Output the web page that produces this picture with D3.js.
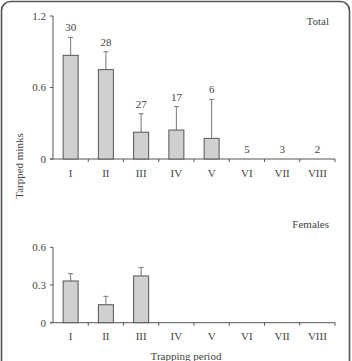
<!DOCTYPE html>
<html><head><meta charset="utf-8">
<script src="https://cdn.jsdelivr.net/npm/d3@7"></script>
<style>body{margin:0;background:#fff}svg{display:block}</style>
</head><body>
<script>
const periods = ["I","II","III","IV","V","VI","VII","VIII"];
const totalMean = [0.87, 0.75, 0.225, 0.243, 0.173, 0, 0, 0];
const totalErr  = [1.02, 0.90, 0.38, 0.44, 0.50, 0, 0, 0];
const totalN    = [30, 28, 27, 17, 6, 5, 3, 2];
const femMean   = [0.332, 0.143, 0.372, 0, 0, 0, 0, 0];
const femErr    = [0.39, 0.21, 0.44, 0, 0, 0, 0, 0];
const totalTicks = [0, 0.6, 1.2];
const femTicks   = [0, 0.3, 0.6];

const W = 352, H = 361;
const svg = d3.select("body").append("svg").attr("width", W).attr("height", H);
const font = "Liberation Serif, Times New Roman, serif";
const txt = "#444";

svg.append("rect").attr("x", 1.5).attr("y", 1.5).attr("width", 348).attr("height", 380)
  .attr("rx", 9).attr("fill", "none").attr("stroke", "#555").attr("stroke-width", 1.6);

function panel(y0, y1, domainMax, ticks, mean, err, counts, title, titleY, labY) {
  const x = d3.scaleBand().domain(periods).range([53, 335]);
  const y = d3.scaleLinear().domain([0, domainMax]).range([y0, y1]);
  const g = svg.append("g");
  g.append("line").attr("x1", 53).attr("x2", 53).attr("y1", y(0)).attr("y2", y(domainMax)).attr("stroke", "#555");
  g.append("line").attr("x1", 50).attr("x2", 335).attr("y1", y(0)).attr("y2", y(0)).attr("stroke", "#555");
  ticks.forEach(t => {
    g.append("line").attr("x1", 50).attr("x2", 53).attr("y1", y(t)).attr("y2", y(t)).attr("stroke", "#555");
    g.append("text").attr("x", 46).attr("y", y(t)).attr("dy", "0.35em").attr("text-anchor", "end")
      .attr("font-family", font).attr("font-size", 11).attr("fill", txt).text(t);
  });
  periods.forEach((p, i) => {
    g.append("line").attr("x1", x(p) + x.bandwidth()).attr("x2", x(p) + x.bandwidth())
      .attr("y1", y(0)).attr("y2", y(0) + 3).attr("stroke", "#555");
    g.append("text").attr("x", x(p) + x.bandwidth() / 2).attr("y", labY).attr("dy", "0.35em")
      .attr("text-anchor", "middle").attr("font-family", font).attr("font-size", 11).attr("fill", txt).text(p);
  });
  const bw = 15;
  periods.forEach((p, i) => {
    const cx = x(p) + x.bandwidth() / 2;
    if (mean[i] > 0) {
      g.append("line").attr("x1", cx).attr("x2", cx).attr("y1", y(mean[i])).attr("y2", y(err[i]))
        .attr("stroke", "#777").attr("stroke-width", 1);
      g.append("line").attr("x1", cx - 2.5).attr("x2", cx + 2.5).attr("y1", y(err[i])).attr("y2", y(err[i]))
        .attr("stroke", "#777").attr("stroke-width", 1);
      g.append("rect").attr("x", cx - bw / 2).attr("y", y(mean[i])).attr("width", bw)
        .attr("height", y(0) - y(mean[i])).attr("fill", "#d0d0d0").attr("stroke", "#555").attr("stroke-width", 1);
    }
    if (counts) {
      g.append("text").attr("x", cx).attr("y", y(err[i]) - 6).attr("text-anchor", "middle")
        .attr("font-family", font).attr("font-size", 11).attr("fill", txt).text(counts[i]);
    }
  });
  g.append("text").attr("x", 329).attr("y", titleY).attr("dy", "0.35em").attr("text-anchor", "end")
    .attr("font-family", font).attr("font-size", 11).attr("fill", txt).text(title);
}

panel(159, 16, 1.2, totalTicks, totalMean, totalErr, totalN, "Total", 21, 173);
panel(322.7, 247.3, 0.6, femTicks, femMean, femErr, null, "Females", 224, 335.7);

svg.append("text").attr("transform", "translate(23,166) rotate(-90)").attr("text-anchor", "middle")
  .attr("font-family", font).attr("font-size", 11).attr("fill", txt).text("Tarpped minks");
svg.append("text").attr("x", 186).attr("y", 360).attr("text-anchor", "middle")
  .attr("font-family", font).attr("font-size", 11).attr("fill", txt).text("Trapping period");
</script>
</body></html>
